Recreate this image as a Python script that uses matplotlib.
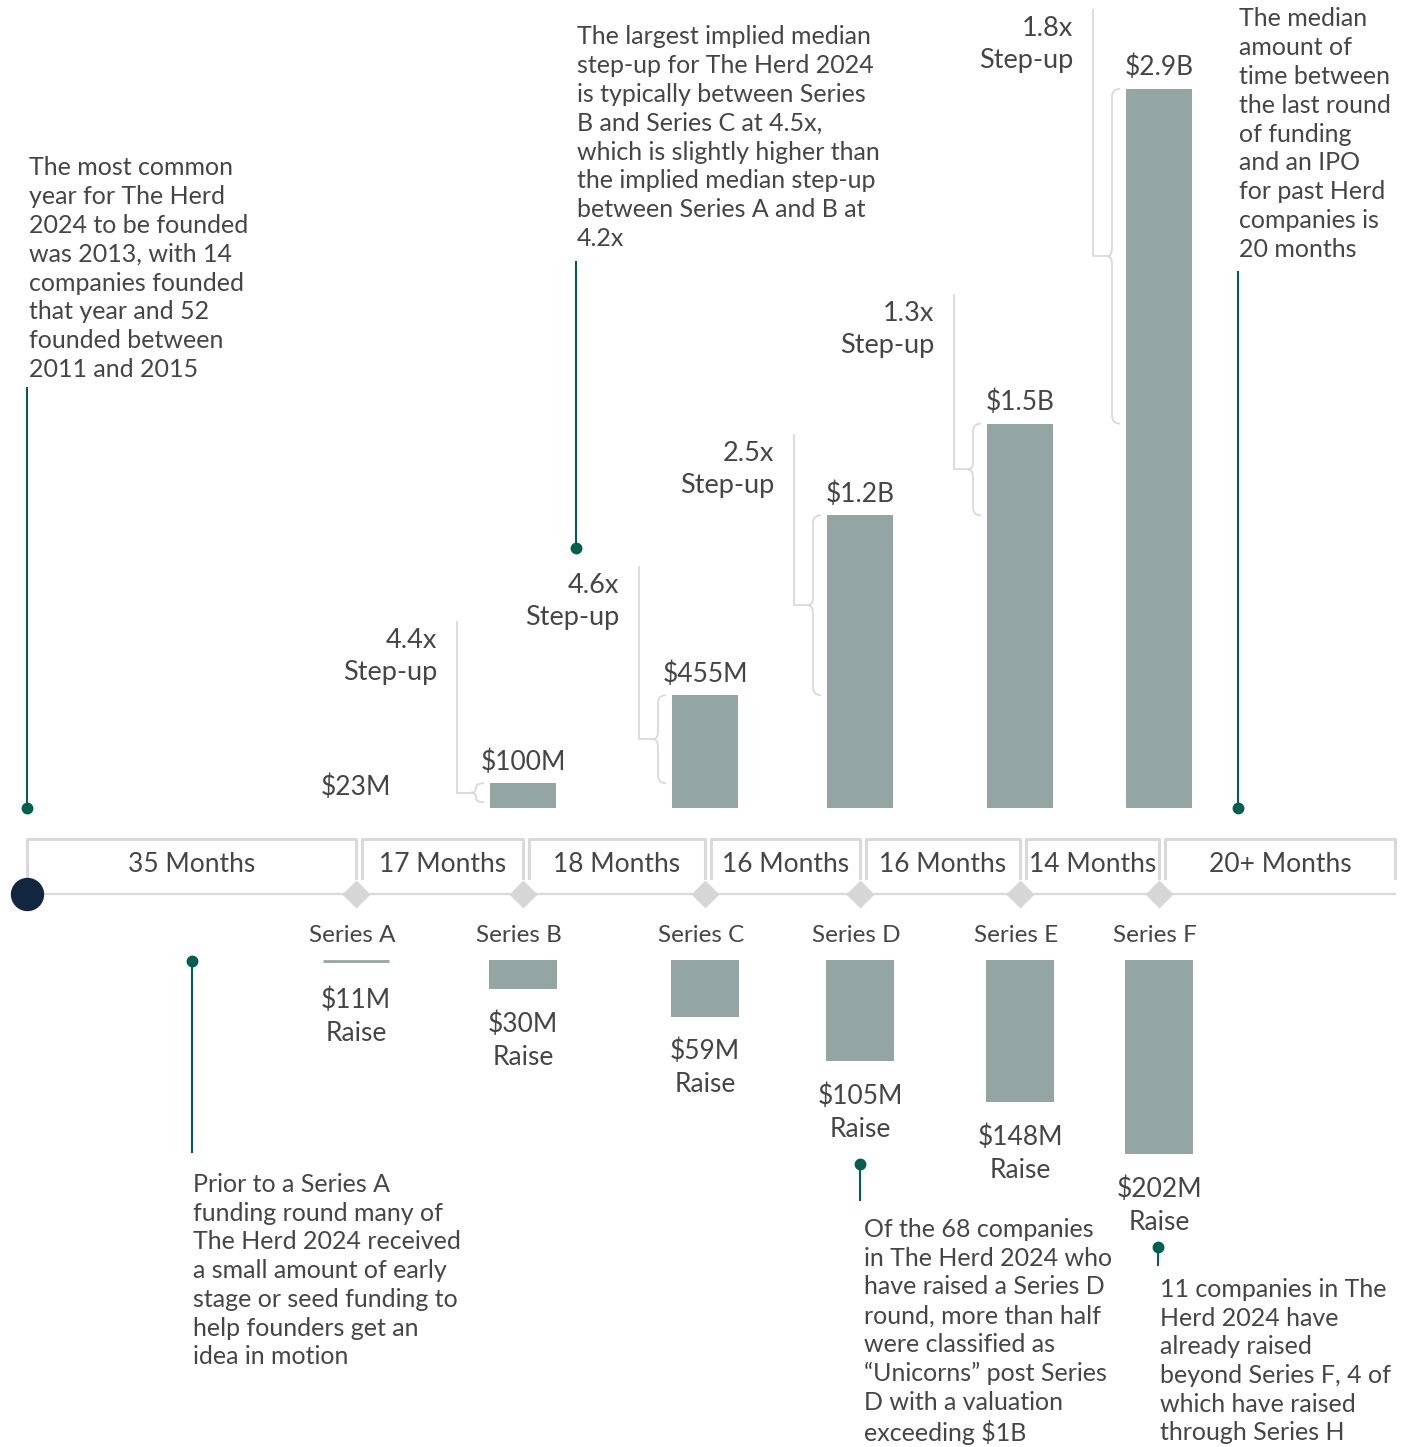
import matplotlib.pyplot as plt
from matplotlib.path import Path
from matplotlib.patches import PathPatch

plt.rcParams['font.family'] = ['Lato', 'DejaVu Sans']

# data
series = ['Series A', 'Series B', 'Series C', 'Series D', 'Series E', 'Series F']
valuation = [23, 100, 455, 1180, 1550, 2900]          # $M, median post-money
valuation_labels = ['$23M', '$100M', '$455M', '$1.2B', '$1.5B', '$2.9B']
raise_amt = [11, 30, 59, 105, 148, 202]               # $M
raise_labels = ['$11M', '$30M', '$59M', '$105M', '$148M', '$202M']
step_up = ['4.4x', '4.6x', '2.5x', '1.3x', '1.8x']
months = ['35 Months', '17 Months', '18 Months', '16 Months', '16 Months', '14 Months', '20+ Months']

notes_top = [
    "The most common\nyear for The Herd\n2024 to be founded\nwas 2013, with 14\ncompanies founded\nthat year and 52\nfounded between\n2011 and 2015",
    "The largest implied median\nstep-up for The Herd 2024\nis typically between Series\nB and Series C at 4.5x,\nwhich is slightly higher than\nthe implied median step-up\nbetween Series A and B at\n4.2x",
    "The median\namount of\ntime between\nthe last round\nof funding\nand an IPO\nfor past Herd\ncompanies is\n20 months",
]
notes_bottom = [
    "Prior to a Series A\nfunding round many of\nThe Herd 2024 received\na small amount of early\nstage or seed funding to\nhelp founders get an\nidea in motion",
    "Of the 68 companies\nin The Herd 2024 who\nhave raised a Series D\nround, more than half\nwere classified as\n\u201cUnicorns\u201d post Series\nD with a valuation\nexceeding $1B",
    "11 companies in The\nHerd 2024 have\nalready raised\nbeyond Series F, 4 of\nwhich have raised\nthrough Series H",
]

# layout (pixels)
W, H = 1408, 1447
centers = [356, 523, 705, 860, 1020, 1159]
bar_w = 66
top_base, top_px_per_m = 808, 0.248
bot_base, bot_px_per_m = 960, 0.961
line_y = 894
stepup_line_top = [622, 567, 435, 295, 10]

BAR = '#94a6a3'
GREY = '#d9d9d9'
TXT = '#454545'
TEAL = '#00604f'
NAVY = '#13263f'

fig = plt.figure(figsize=(W / 100, H / 100), dpi=100)
ax = fig.add_axes([0, 0, 1, 1])
ax.set_xlim(0, W)
ax.set_ylim(H, 0)
ax.axis('off')

# valuation axes (value scale, y up)
top_max = 3200
top_h = top_max * top_px_per_m
ax_top = fig.add_axes([0, (H - top_base) / H, 1, top_h / H])
ax_top.set_xlim(0, W)
ax_top.set_ylim(0, top_max)
ax_top.axis('off')

# raise axes (value scale, y down)
bot_max = 260
bot_h = bot_max * bot_px_per_m
ax_bot = fig.add_axes([0, (H - bot_base - bot_h) / H, 1, bot_h / H])
ax_bot.set_xlim(0, W)
ax_bot.set_ylim(bot_max, 0)
ax_bot.axis('off')

# valuation bars (Series A is too small to show)
ax_top.bar(centers[1:], valuation[1:], width=bar_w, color=BAR)
for i, (x, v, lab) in enumerate(zip(centers, valuation, valuation_labels)):
    vv = v if i > 0 else 0
    ax_top.annotate(lab, (x, vv), xytext=(0, 6), textcoords='offset points',
                    ha='center', va='bottom', fontsize=19, color=TXT)

# braces + step-up labels
def brace(x_left, top, bottom):
    k = 1 / top_px_per_m
    xr, xm, xc = x_left - 6, x_left - 14, x_left - 19
    mid = (top + bottom) / 2
    r = min(8, (top - bottom) / k / 4) * k
    verts = [(xr, top), (xm, top), (xm, top - r), (xm, mid + r), (xm, mid), (xc, mid),
             (xm, mid), (xm, mid - r), (xm, bottom + r), (xm, bottom), (xr, bottom)]
    codes = [Path.MOVETO, Path.CURVE3, Path.CURVE3, Path.LINETO, Path.CURVE3, Path.CURVE3,
             Path.CURVE3, Path.CURVE3, Path.LINETO, Path.CURVE3, Path.CURVE3]
    ax_top.add_patch(PathPatch(Path(verts, codes), fill=False, ec=GREY, lw=1.3))
    return xc, mid

for i in range(1, len(valuation)):
    left = centers[i] - bar_w / 2
    xc, mid = brace(left, valuation[i], valuation[i - 1])
    y_mid = top_base - mid * top_px_per_m
    xv = left - 33
    ytop = stepup_line_top[i - 1]
    ax.plot([xc, xv, xv], [y_mid, y_mid, ytop], color=GREY, lw=1.3)
    ax.text(xv - 20, ytop + 6, step_up[i - 1] + '\nStep-up', ha='right', va='top',
            fontsize=19.5, color=TXT, linespacing=1.37)

# raise bars
ax_bot.bar(centers[1:], raise_amt[1:], width=bar_w + 2, color=BAR)
ax_bot.hlines(0.8, centers[0] - bar_w / 2, centers[0] + bar_w / 2, color=BAR, lw=2)
for i, (x, v, lab) in enumerate(zip(centers, raise_amt, raise_labels)):
    vv = v if i > 0 else 0
    off = -16 if i > 0 else -20
    ax_bot.annotate(lab + '\nRaise', (x, vv), xytext=(0, off), textcoords='offset points',
                    ha='center', va='top', fontsize=19, color=TXT, linespacing=1.4)

# timeline
ends = [27] + centers + [1395]
ax.plot([27, 1395], [line_y, line_y], color=GREY, lw=1.6, zorder=1)
for i, m in enumerate(months):
    l = ends[i] + (6 if i > 0 else 0)
    r = ends[i + 1]
    ax.plot([l, l, r, r], [878, 839, 839, 878], color=GREY, lw=2.2, zorder=1)
    ax.text((l + r) / 2, 864, m, ha='center', va='center', fontsize=19, color=TXT)
ax.plot(centers, [line_y] * len(centers), 'D', ms=14, color='#d6d6d6', mec='none', zorder=2)
ax.plot(27, line_y, 'o', ms=23, color=NAVY, zorder=3)
for x, s in zip(centers, series):
    ax.text(x - 4, 935, s, ha='center', va='center', fontsize=17.5, color=TXT)

# annotations
note_spec_top = [(29, 156, 27, 388, 808), (577, 25, 576, 262, 548), (1239, 7, 1238, 272, 808)]
for txt, (tx, ty, lx, l0, l1) in zip(notes_top, note_spec_top):
    ax.text(tx, ty, txt, ha='left', va='top', fontsize=18, color=TXT, linespacing=1.31)
    ax.plot([lx, lx], [l0, l1], color=TEAL, lw=1.5)
    ax.plot(lx, l1, 'o', ms=7.5, color=TEAL)

note_spec_bot = [(193, 1173, 192, 961, 1152), (864, 1218, 860, 1164, 1200), (1160, 1278, 1158, 1247, 1265)]
for txt, (tx, ty, lx, l0, l1) in zip(notes_bottom, note_spec_bot):
    ax.text(tx, ty, txt, ha='left', va='top', fontsize=18, color=TXT, linespacing=1.3)
    ax.plot([lx, lx], [l0, l1], color=TEAL, lw=1.5)
    ax.plot(lx, l0, 'o', ms=7.5, color=TEAL)

fig.savefig('out.png', dpi=100, facecolor='white')
